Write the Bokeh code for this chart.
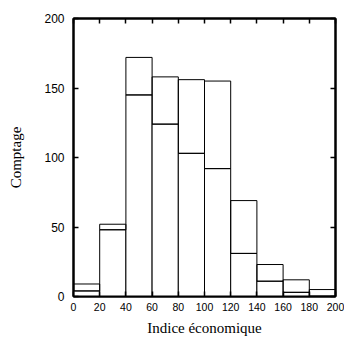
from bokeh.plotting import figure
from bokeh.models import LinearAxis, FixedTicker, Range1d, CustomLabelingPolicy
from bokeh.embed import file_html
from bokeh.resources import INLINE

bin_left = [0, 20, 40, 60, 80, 100, 120, 140, 160, 180]
bin_right = [20, 40, 60, 80, 100, 120, 140, 160, 180, 200]
lower_counts = [4, 48, 145, 124, 103, 92, 31, 11, 3, 0]
total_counts = [9, 52, 172, 158, 156, 155, 69, 23, 12, 5]
x_ticks = [0, 20, 40, 60, 80, 100, 120, 140, 160, 180, 200]
y_ticks = [0, 50, 100, 150, 200]

p = figure(width=344, height=342, output_backend="svg", toolbar_location=None,
           x_range=Range1d(0, 200), y_range=Range1d(0, 200),
           min_border_left=73, min_border_right=9, min_border_top=18, min_border_bottom=46,
           x_axis_location=None, y_axis_location=None)
p.grid.visible = False
p.background_fill_color = "white"
p.border_fill_color = "white"
p.outline_line_color = "black"
p.outline_line_width = 2

p.quad(left=bin_left, right=bin_right, bottom=[0] * len(lower_counts), top=lower_counts,
       fill_color="white", line_color="black", line_width=1)
p.quad(left=bin_left, right=bin_right, bottom=lower_counts, top=total_counts,
       fill_alpha=0, line_color="black", line_width=1)

hide_labels = CustomLabelingPolicy(code="""
const out = [];
for (const i of indices) out.push(i);
for (const i of out) indices.unset(i);
return indices;
""")

def style(ax, ticks, font_size="11px", labels=True):
    ax.major_tick_in = 5
    ax.major_tick_out = 0
    ax.minor_tick_in = 0
    ax.minor_tick_out = 0
    ax.axis_line_color = "black"
    ax.axis_line_width = 2
    ax.major_tick_line_color = "black"
    ax.major_tick_line_width = 1.5
    ax.major_label_text_font = "Liberation Sans"
    ax.major_label_text_font_size = font_size
    ax.major_label_text_color = "black"
    ax.axis_label_text_color = "black"
    if not labels:
        ax.major_label_overrides = {t: "" for t in ticks}
        ax.major_label_policy = hide_labels
        ax.major_label_standoff = 0

bottom = LinearAxis(ticker=FixedTicker(ticks=x_ticks), axis_label="Indice économique")
style(bottom, x_ticks, "10.5px")
bottom.major_label_standoff = 6
bottom.axis_label_text_font = "Liberation Serif"
bottom.axis_label_text_font_style = "normal"
bottom.axis_label_text_font_size = "15px"
bottom.axis_label_standoff = 6
p.add_layout(bottom, "below")

left = LinearAxis(ticker=FixedTicker(ticks=y_ticks), axis_label="Comptage")
style(left, y_ticks, "12px")
left.major_label_standoff = 9
left.axis_label_text_font = "Liberation Serif"
left.axis_label_text_font_style = "normal"
left.axis_label_text_font_size = "15px"
left.axis_label_standoff = 17
p.add_layout(left, "left")

top = LinearAxis(ticker=FixedTicker(ticks=x_ticks))
style(top, x_ticks, labels=False)
p.add_layout(top, "above")

right = LinearAxis(ticker=FixedTicker(ticks=y_ticks))
style(right, y_ticks, labels=False)
p.add_layout(right, "right")

open("out.html", "w").write(file_html(p, INLINE))
